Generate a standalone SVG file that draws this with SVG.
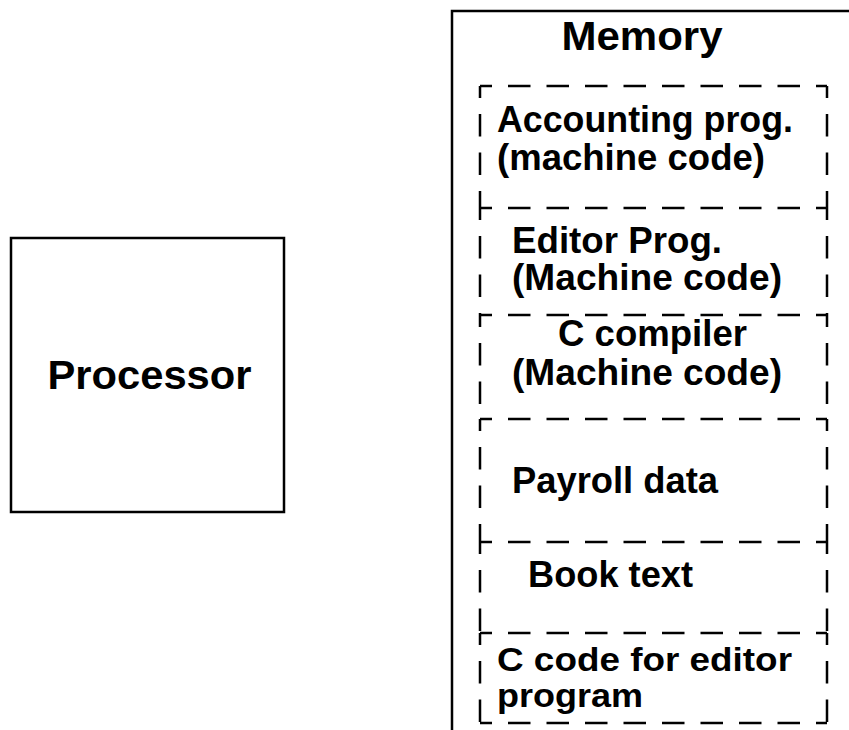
<svg xmlns="http://www.w3.org/2000/svg" width="849" height="730" viewBox="0 0 849 730">
<style>
.solid{fill:none;stroke:#000;stroke-width:2.5}
.dash{fill:none;stroke:#000;stroke-width:2.5;stroke-dasharray:22.5 16;stroke-dashoffset:10.5}
.t{font-family:"Liberation Sans",Arial,sans-serif;font-weight:bold;fill:#000}
.m{font-size:36px}
.s{font-size:34px}
.b{font-size:41px}
</style>
<rect width="849" height="730" fill="#fff"/>
<g id="processor">
<rect class="solid" x="11" y="238" width="273" height="274"/>
<text class="t b" x="149.5" y="389" text-anchor="middle" textLength="204" lengthAdjust="spacingAndGlyphs">Processor</text>
</g>
<g id="memory">
<path class="solid" d="M452,730 V11 H849"/>
<text class="t b" x="642" y="50" text-anchor="middle" textLength="161" lengthAdjust="spacingAndGlyphs">Memory</text>
</g>
<g id="dividers">
<line class="dash" x1="480" y1="86" x2="827" y2="86"/>
<line class="dash" x1="480" y1="208" x2="827" y2="208"/>
<line class="dash" x1="480" y1="315" x2="827" y2="315"/>
<line class="dash" x1="480" y1="419" x2="827" y2="419"/>
<line class="dash" x1="480" y1="542" x2="827" y2="542"/>
<line class="dash" x1="480" y1="633" x2="827" y2="633"/>
<line class="dash" x1="480" y1="723" x2="827" y2="723"/>
<line class="dash" x1="480" y1="86" x2="480" y2="208"/>
<line class="dash" x1="827" y1="86" x2="827" y2="208"/>
<line class="dash" x1="480" y1="208" x2="480" y2="315"/>
<line class="dash" x1="827" y1="208" x2="827" y2="315"/>
<line class="dash" x1="480" y1="315" x2="480" y2="419"/>
<line class="dash" x1="827" y1="315" x2="827" y2="419"/>
<line class="dash" x1="480" y1="419" x2="480" y2="542"/>
<line class="dash" x1="827" y1="419" x2="827" y2="542"/>
<line class="dash" x1="480" y1="542" x2="480" y2="633"/>
<line class="dash" x1="827" y1="542" x2="827" y2="633"/>
<line class="dash" x1="480" y1="633" x2="480" y2="723"/>
<line class="dash" x1="827" y1="633" x2="827" y2="723"/>
</g>
<g id="accounting">
<text class="t m" x="497" y="132" textLength="296" lengthAdjust="spacingAndGlyphs">Accounting prog.</text>
<text class="t m" x="497" y="170" textLength="268" lengthAdjust="spacingAndGlyphs">(machine code)</text>
</g>
<g id="editor">
<text class="t m" x="512" y="253" textLength="210" lengthAdjust="spacingAndGlyphs">Editor Prog.</text>
<text class="t m" x="512" y="290" textLength="270" lengthAdjust="spacingAndGlyphs">(Machine code)</text>
</g>
<g id="compiler">
<text class="t m" x="558" y="346" textLength="189" lengthAdjust="spacingAndGlyphs">C compiler</text>
<text class="t m" x="512" y="385" textLength="270" lengthAdjust="spacingAndGlyphs">(Machine code)</text>
</g>
<g id="payroll">
<text class="t m" x="512" y="493" textLength="206" lengthAdjust="spacingAndGlyphs">Payroll data</text>
</g>
<g id="book">
<text class="t m" x="528" y="587" textLength="165" lengthAdjust="spacingAndGlyphs">Book text</text>
</g>
<g id="ccode">
<text class="t s" x="497" y="671" textLength="295" lengthAdjust="spacingAndGlyphs">C code for editor</text>
<text class="t s" x="497" y="707" textLength="146" lengthAdjust="spacingAndGlyphs">program</text>
</g>
</svg>
